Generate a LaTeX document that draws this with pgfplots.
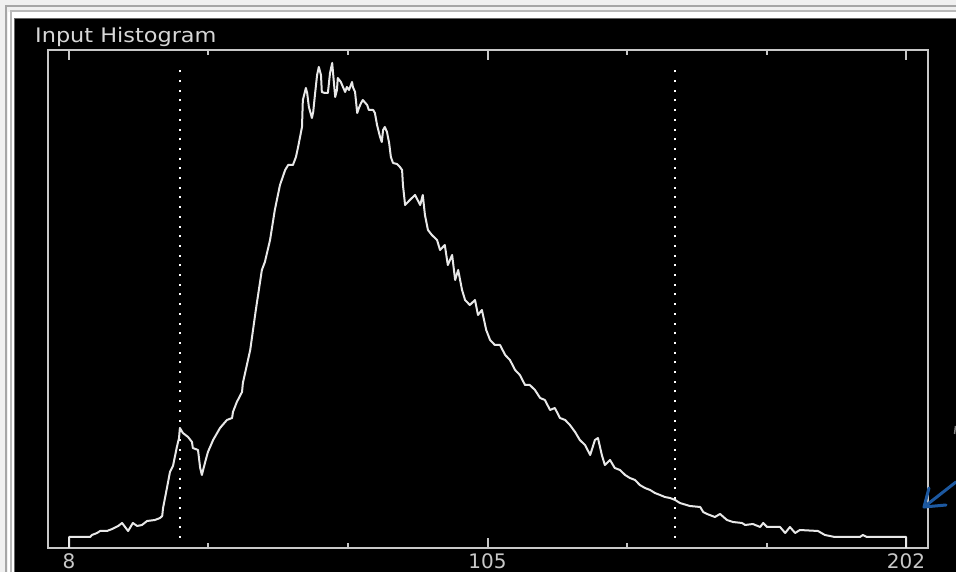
\documentclass[border=0pt]{standalone}
\usepackage{pgfplots}
\pgfplotsset{compat=1.18}
\usepackage{fontspec}
\setmainfont{DejaVu Sans}
\definecolor{axgray}{RGB}{200,200,200}
\definecolor{datacol}{RGB}{232,232,232}
\definecolor{ttl}{RGB}{215,215,215}
\definecolor{arrowblue}{RGB}{28,88,160}
\definecolor{bgframe}{RGB}{240,240,240}
\begin{document}
\begin{tikzpicture}[x=1pt,y=1pt]
\useasboundingbox (0,0) rectangle (956,572);
% window frame
\fill[bgframe] (0,0) rectangle (956,572);
\fill[white] (8,0) rectangle (956,560);
\draw[gray!70, line width=1.2pt] (6,0) -- (6,566) -- (956,566);
\draw[gray!55, line width=1.5pt] (11,0) -- (11,561) -- (956,561);
\draw[gray!80!black, line width=1pt] (14,0) -- (14,553.5) -- (956,553.5);
\fill[black] (15,0) rectangle (956,553);
% title
\node[anchor=base west, inner sep=0pt, text=ttl] at (35,529)
  {\scalebox{1.12}[1]{\fontsize{20}{20}\selectfont Input Histogram}};
\begin{axis}[
  at={(48pt,24pt)}, anchor=south west,
  width=880pt, height=498pt, scale only axis,
  xmin=3.13, xmax=207.1, ymin=0, ymax=498,
  axis line style={draw=axgray, line width=2pt},
  xtick={8,105,202}, xticklabels={8,105,202},
  minor xtick={40.33,72.67,137.33,169.67},
  ytick=\empty,
  tick align=inside,
  major tick length=10pt, minor tick length=5pt,
  every tick/.style={draw=axgray, line width=2pt},
  xticklabel style={font=\fontsize{20}{20}\selectfont, text=axgray, inner sep=0pt, yshift=-5pt, anchor=north},
  clip=false,
]
% dotted markers
\addplot[draw=white, line width=2pt, dash pattern=on 2pt off 7.7pt] coordinates {(33.7,10) (33.7,482)};
\addplot[draw=white, line width=2pt, dash pattern=on 2pt off 7.7pt] coordinates {(148.5,10) (148.5,482)};
% histogram
\addplot[draw=datacol, line width=2pt, line join=round] coordinates {
(8.0,0) (8.0,11) (12.9,11) (13.3,13) (14.5,15) (15.2,17) (16.8,17) (18.0,19) (19.4,22) (20.3,25)
(21.7,17) (22.8,25) (23.8,22) (24.9,23) (26.1,27) (27.9,28) (29.1,30) (29.6,32) (29.8,40) (30.7,60)
(31.4,76) (32.1,82) (33.0,101) (33.5,110) (33.7,120) (34.4,115) (35.6,111) (36.5,106) (36.7,100) (37.9,98)
(38.4,80) (38.8,73) (39.5,85) (40.2,96) (41.4,108) (43.0,120) (44.6,128) (45.8,130) (46.0,136) (46.9,146)
(48.1,156) (48.3,165) (50.0,198) (51.3,238) (52.7,278) (53.4,286) (54.6,308) (55.7,338) (56.9,363) (58.1,378)
(58.8,383) (59.9,383) (60.6,391) (61.1,401) (62.0,421) (62.2,448) (62.9,460) (63.2,455) (63.6,441) (64.3,430)
(64.6,436) (65.0,453) (65.5,473) (65.9,481) (66.4,473) (66.6,456) (67.3,455) (68.0,455) (68.5,475) (69.0,485)
(69.2,475) (69.7,451) (70.1,458) (70.3,470) (71.0,466) (71.5,461) (72.0,456) (72.4,461) (72.9,458) (73.6,466)
(73.8,461) (74.3,456) (74.8,435) (75.2,440) (75.7,445) (76.1,448) (77.1,443) (77.5,438) (78.5,438) (78.9,435)
(79.4,423) (80.1,411) (80.5,406) (80.8,418) (81.2,421) (81.7,416) (82.2,405) (82.6,391) (83.1,385) (84.0,384)
(84.7,381) (85.2,378) (85.4,363) (85.9,343) (87.0,348) (88.2,353) (89.4,343) (90.0,353) (90.5,333) (91.2,318)
(92.1,313) (93.3,308) (94.0,298) (95.1,303) (95.8,283) (96.8,293) (97.5,268) (98.2,278) (99.1,258) (99.8,248)
(100.9,243) (102.1,248) (102.8,233) (103.7,238) (104.7,218) (105.6,208) (106.7,203) (107.9,203) (109.1,193) (110.2,188)
(111.4,178) (112.5,173) (113.7,163) (114.8,163) (116.0,158) (117.2,150) (118.3,148) (119.5,138) (120.6,140) (121.8,130)
(123.0,128) (124.1,123) (125.3,116) (126.4,108) (127.6,103) (128.8,93) (129.9,108) (130.6,110) (131.5,93) (132.2,83)
(133.4,88) (134.5,80) (135.7,78) (136.9,73) (138.0,70) (139.2,68) (140.3,63) (141.5,60) (142.7,58) (143.8,55)
(145.0,53) (146.1,51) (147.3,50) (148.5,48) (149.6,45) (151.9,42) (154.3,41) (155.0,36) (155.9,34) (157.7,31)
(158.9,34) (160.5,28) (161.9,26) (164.0,25) (164.7,23) (166.5,24) (168.2,21) (168.9,25) (169.8,21) (172.8,21)
(174.0,15) (175.1,21) (176.3,15) (177.4,18) (181.6,17) (183.2,13) (185.5,11) (191.3,11) (192.0,13) (192.9,11)
(201.8,11) (202.0,11) (202.0,0)
};
\end{axis}
% annotation arrow
\draw[arrowblue, line width=3pt, line cap=round, line join=round] (956,90) -- (924,65);
\draw[arrowblue, line width=3pt, line cap=round, line join=round] (929,84) -- (924,65) -- (946,67);
\draw[gray, line width=1.5pt] (955.5,146) -- (954.5,138);
\end{tikzpicture}
\end{document}
